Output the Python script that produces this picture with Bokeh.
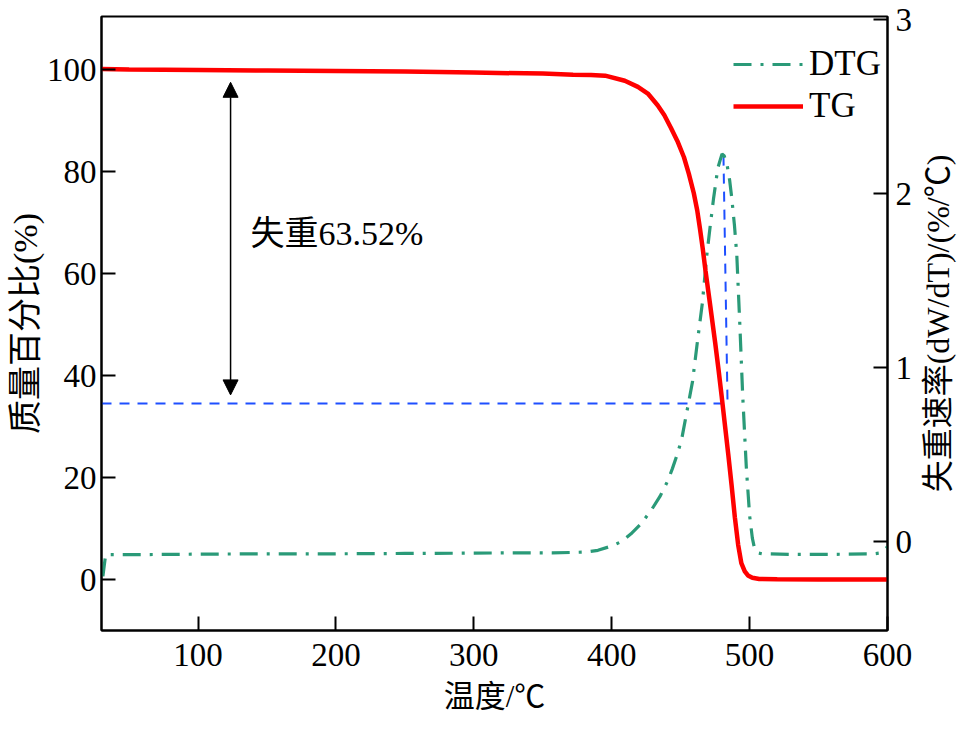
import math
from bokeh.plotting import figure
from bokeh.models import Range1d, LinearAxis, Legend, LegendItem, Arrow, NormalHead, Label, FixedTicker
from bokeh.embed import file_html
from bokeh.resources import INLINE

# TG curve (temperature °C, mass %)
tg_t = [30, 50, 100, 150, 200, 250, 300, 350, 372, 385, 395.2, 409.5, 419, 426.2, 433.3, 438.1,
        442.9, 447.6, 452.4, 455.9, 459.5, 462, 464, 466, 468, 471.4, 475, 477.4, 479.8, 482.1,
        484.5, 486.9, 489.3, 491.7, 494, 496.5, 498.8, 502, 507, 520, 550, 600]
tg_v = [100.1, 100.0, 99.9, 99.8, 99.7, 99.6, 99.4, 99.2, 99.0, 98.95, 98.8, 97.8, 96.6, 95.3, 93.0,
        91.1, 88.6, 86.0, 82.8, 79.6, 75.8, 72.4, 68.8, 64.9, 60.6, 53.8, 46.5, 41.3, 35.8, 30.3,
        24.6, 18.6, 12.2, 6.8, 3.2, 1.6, 0.8, 0.35, 0.1, 0.03, 0.0, 0.0]

# DTG curve (temperature °C, %/°C)
dtg_t = [31, 33, 50, 100, 150, 200, 250, 300, 340, 357, 381, 390, 400, 407, 414, 421, 428.6, 435,
         440.7, 444, 447.9, 451, 453.6, 456, 458.6, 462, 465.7, 469, 471.5, 473.8, 477, 480, 481.5,
         483.6, 485.5, 487, 489, 490.7, 492.9, 495, 497.6, 500, 502, 503.6, 506, 509, 530, 560, 590,
         595, 600]
dtg_v = [-0.20, -0.075, -0.075, -0.072, -0.07, -0.07, -0.068, -0.066, -0.064, -0.065, -0.06, -0.05,
         -0.025, 0.0, 0.045, 0.10, 0.18, 0.26, 0.35, 0.42, 0.51, 0.60, 0.71, 0.81, 0.92, 1.14, 1.37,
         1.65, 1.82, 1.97, 2.15, 2.23, 2.22, 2.17, 2.08, 1.98, 1.82, 1.65, 1.25, 0.84, 0.43, 0.15, 0.02,
         -0.04, -0.065, -0.07, -0.073, -0.073, -0.07, -0.065, -0.03]

# reference guide (blue dashed): residual level and peak temperature
guide_t = [30, 484, 481]
guide_v = [34.5, 34.5, 83.9]

# weight-loss arrow and its note
arrow_t = 123.6
arrow_top = 97.5
arrow_bottom = 36.2
loss_text = "失重63.52%"
loss_t = 138
loss_v = 67.8

x_ticks = [100, 200, 300, 400, 500, 600]
left_ticks = [0, 20, 40, 60, 80, 100]
right_ticks = [0, 1, 2, 3]
right_title = "失重速率(dW/dT)/(%/℃)"

SERIF = "Liberation Serif, Noto Sans CJK SC"

W, H = 957, 716
FL, FR, FT, FB = 101, 887, 16, 630  # frame box in figure pixels

p = figure(width=W, height=H, output_backend="svg", toolbar_location=None,
           x_range=Range1d(30, 600), y_range=Range1d(-10, 110.4),
           min_border_left=FL, min_border_right=W - FR, min_border_top=FT, min_border_bottom=H - FB)
p.extra_y_ranges = {"r": Range1d(-0.511, 3.02)}
p.grid.visible = False
p.outline_line_color = "black"
p.outline_line_width = 2
p.background_fill_color = "white"
p.border_fill_color = "white"

def style_axis(ax, ticks):
    ax.ticker = FixedTicker(ticks=ticks)
    ax.major_tick_in = 14
    ax.major_tick_out = 0
    ax.minor_tick_in = 0
    ax.minor_tick_out = 0
    ax.axis_line_width = 2
    ax.major_tick_line_width = 2
    ax.axis_line_color = "black"
    ax.major_tick_line_color = "black"
    ax.major_label_text_font = SERIF
    ax.major_label_text_font_size = "33px"
    ax.major_label_text_color = "black"
    ax.axis_label_text_font = SERIF
    ax.axis_label_text_font_style = "normal"
    ax.axis_label_text_color = "black"

style_axis(p.xaxis[0], x_ticks)
p.xaxis[0].axis_label = "温度/℃"
p.xaxis[0].axis_label_text_font_size = "31px"
p.xaxis[0].major_label_standoff = 13
p.xaxis[0].axis_label_standoff = 10

style_axis(p.yaxis[0], left_ticks)
p.yaxis[0].axis_label = "质量百分比(%)"
p.yaxis[0].axis_label_text_font_size = "34px"
p.yaxis[0].major_label_standoff = 5
p.yaxis[0].axis_label_standoff = 0

raxis = LinearAxis(y_range_name="r")
style_axis(raxis, right_ticks)
raxis.major_label_standoff = 8
p.add_layout(raxis, "right")

# right axis title, reading bottom-to-top, in its own side panel
p.add_layout(Label(x=22, y=(FB - FT) / 2, x_units="screen", y_units="screen", text=right_title,
                   angle=math.pi / 2, text_font=SERIF, text_font_size="32px",
                   text_align="center", text_baseline="middle", text_color="black"), "right")

green = "#2A9A78"
red = "#FF0000"
blue = "#1E4FFF"

p.line(guide_t, guide_v, line_color=blue, line_width=2, line_dash="10 8")
r_dtg = p.line(dtg_t, dtg_v, y_range_name="r", line_color=green, line_width=3.2, line_dash="18 9 3 9")
r_tg = p.line(tg_t, tg_v, line_color=red, line_width=4.5)

head = dict(size=15, fill_color="black", line_color="black")
p.add_layout(Arrow(x_start=arrow_t, y_start=arrow_bottom, x_end=arrow_t, y_end=arrow_top,
                   start=NormalHead(**head), end=NormalHead(**head),
                   line_width=1.5, line_color="black"))

p.add_layout(Label(x=loss_t, y=loss_v, text=loss_text, text_font=SERIF, text_font_size="34px",
                   text_baseline="middle", text_align="left", text_color="black"))

legend = Legend(items=[LegendItem(label="DTG", renderers=[r_dtg]),
                       LegendItem(label="TG", renderers=[r_tg])],
                location=(632, 503), glyph_width=70, glyph_height=42, label_height=42,
                label_standoff=6, spacing=0, padding=6, border_line_color=None,
                background_fill_alpha=0, label_text_font=SERIF, label_text_font_size="35px",
                label_text_color="black")
p.add_layout(legend)

open("out.html", "w").write(file_html(p, INLINE))
